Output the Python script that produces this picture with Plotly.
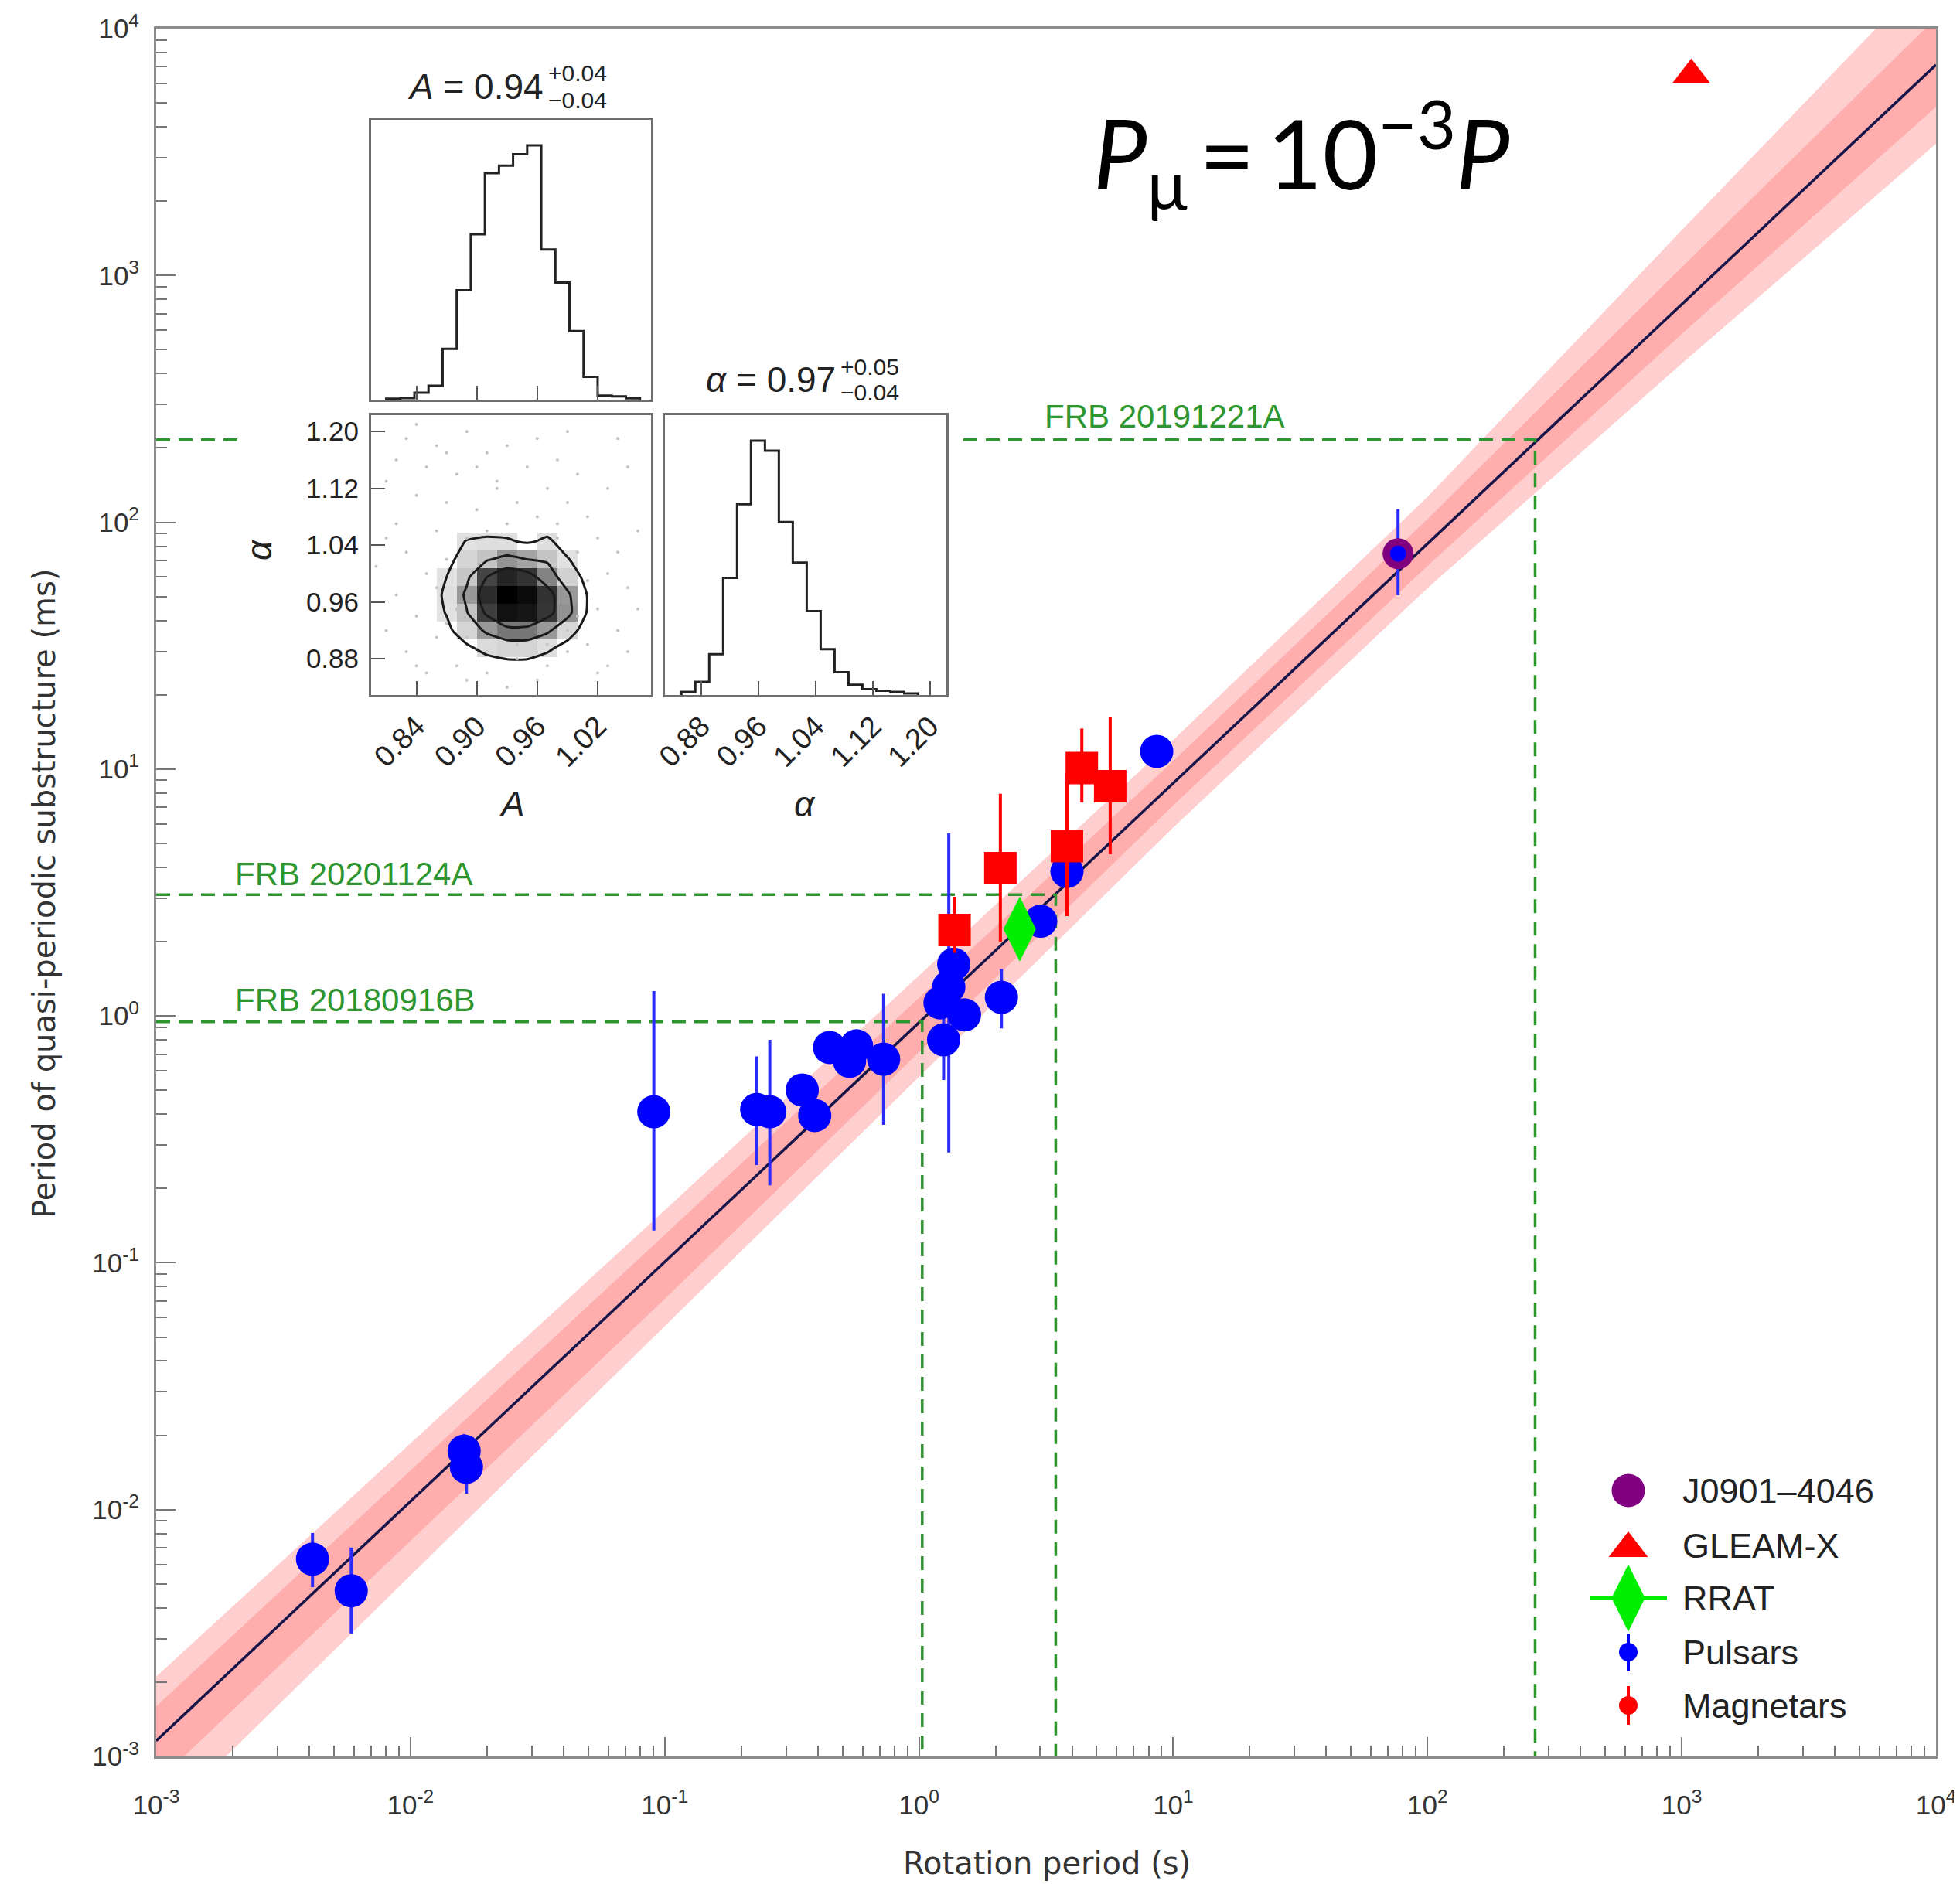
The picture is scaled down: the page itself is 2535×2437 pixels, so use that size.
import numpy as np
import plotly.graph_objects as go

W, H = 2535, 2437          # browser window
PAGE_OFF = 8               # default body margin of the html page
FW, FH = W - PAGE_OFF, H - PAGE_OFF

# ---------------- main-panel data (periods in s, substructure in ms) ----------------
pulsar_P = [0.00412, 0.00585, 0.01626, 0.0166, 0.0906, 0.230, 0.259, 0.3475, 0.389, 0.445,
            0.533, 0.568, 0.726, 1.25, 1.21, 1.51, 1.31, 1.37, 2.11, 3.01, 3.82, 8.61]
pulsar_Pmu = [0.0063, 0.00469, 0.01726, 0.01486, 0.409, 0.418, 0.409, 0.501, 0.395, 0.745,
              0.655, 0.757, 0.668, 0.80, 1.13, 1.01, 1.31, 1.62, 1.19, 2.42, 3.85, 11.8]
pulsar_Pmu_hi = [0.00804, 0.00702, 0.0202, 0.0175, 1.26, 0.685, 0.80, None, None, None,
                 None, None, 1.23, 1.16, None, None, 5.5, None, 1.55, None, None, None]
pulsar_Pmu_lo = [0.00485, 0.00315, 0.0150, 0.0116, 0.135, 0.249, 0.206, None, None, None,
                 None, None, 0.362, 0.55, None, None, 0.28, None, 0.89, None, None, None]

magnetar_P = [1.38, 2.09, 3.82, 4.37, 5.65]
magnetar_Pmu = [2.23, 3.97, 4.87, 10.1, 8.53]
magnetar_Pmu_hi = [3.04, 7.95, 9.6, 14.6, 16.2]
magnetar_Pmu_lo = [1.80, 2.0, 2.54, 7.33, 4.52]

rrat_P = [2.49]
rrat_Pmu = [2.25]

j0901_P = [76.6]
j0901_Pmu = [74.6]
j0901_Pmu_hi = [113.0]
j0901_Pmu_lo = [50.6]

gleam_P = [1090.0]
gleam_Pmu = [6500.0]

frb_names = ["FRB 20180916B", "FRB 20201124A", "FRB 20191221A"]
frb_P = [1.03, 3.45, 265.0]
frb_Pmu = [0.946, 3.1, 216.0]

# fit  P_mu = A * P^alpha   and its uncertainty bands (dex offsets at nodes)
fit_A = 0.94
fit_alpha = 0.97
band_logP = [-3.0, -2.0, -1.0, 0.0, 1.0, 2.0, 3.0, 4.0]
band_up_outer = [0.26, 0.235, 0.21, 0.19, 0.175, 0.19, 0.30, 0.40]
band_up_inner = [0.14, 0.125, 0.11, 0.10, 0.09, 0.10, 0.15, 0.19]
band_lo_inner = [-0.17, -0.16, -0.15, -0.12, -0.09, -0.09, -0.12, -0.17]
band_lo_outer = [-0.34, -0.30, -0.26, -0.22, -0.18, -0.18, -0.24, -0.32]

decade_vals = [1e-3, 1e-2, 1e-1, 1e0, 1e1, 1e2, 1e3, 1e4]
decade_text = ["10<sup>-3</sup>", "10<sup>-2</sup>", "10<sup>-1</sup>", "10<sup>0</sup>",
               "10<sup>1</sup>", "10<sup>2</sup>", "10<sup>3</sup>", "10<sup>4</sup>"]

# ---------------- corner-plot inset data ----------------
histA_left = 0.81
histA_width = 0.014
histA_counts = [0.4, 0.6, 2.7, 5.5, 20, 43, 65, 89, 92, 96.5, 100, 59, 46, 27, 9, 1.6, 1.3, 0.5]

histAl_left = 0.852
histAl_width = 0.0195
histAl_counts = [1.2, 5.2, 16, 46, 75, 100, 96, 68, 52, 33, 18, 9, 4, 2.3, 1.7, 1.2, 0.6]

corner_A = [0.85, 0.87, 0.89, 0.91, 0.93, 0.95, 0.97, 0.99, 1.01, 1.03]
corner_alpha = [0.87, 0.895, 0.92, 0.945, 0.97, 0.995, 1.02, 1.045, 1.07, 1.095]
corner_density = [
    [0, 1, 3, 6, 8, 8, 5, 2, 1, 0],
    [1, 4, 11, 19, 24, 24, 17, 8, 3, 1],
    [3, 10, 24, 42, 55, 55, 42, 22, 6, 1],
    [4, 15, 37, 66, 90, 88, 70, 45, 12, 2],
    [5, 17, 42, 76, 100, 94, 72, 42, 13, 2],
    [4, 14, 34, 62, 80, 72, 50, 26, 8, 2],
    [2, 8, 23, 36, 44, 38, 35, 15, 5, 1],
    [1, 5, 15, 17, 16, 12, 17, 7, 2, 0],
    [0, 1, 4, 6, 6, 3, 6, 2, 0, 0],
    [0, 0, 1, 1, 2, 1, 1, 0, 0, 0],
]
sample_A = [0.83, 0.86, 0.89, 0.91, 0.85, 0.88, 0.92, 0.95, 0.97, 0.84, 0.87, 0.90, 0.94, 0.99, 1.01,
            0.82, 0.86, 0.98, 1.02, 1.04, 0.83, 0.85, 0.82, 0.84, 0.86, 0.83, 1.03, 1.05, 1.02, 1.04,
            1.01, 1.03, 0.88, 0.91, 0.94, 0.97, 0.99, 0.89, 0.96, 0.93, 0.90, 0.93, 0.87, 0.96, 1.00,
            0.81, 0.80, 1.06, 1.05, 0.85,
            0.86, 0.87, 0.88, 0.87, 0.89, 0.91, 0.93, 0.96, 0.98, 1.00, 1.01, 1.00, 0.99, 0.97, 0.94,
            0.91, 0.89, 0.92, 0.98, 1.03, 1.05, 0.84, 0.99, 1.04, 0.82, 0.81, 0.81, 0.84, 1.06, 1.02]
sample_alpha = [1.19, 1.18, 1.20, 1.17, 1.15, 1.14, 1.13, 1.15, 1.12, 1.11, 1.10, 1.09, 1.10, 1.10, 1.08,
                1.07, 1.06, 1.07, 1.05, 1.03, 1.03, 1.00, 0.97, 0.94, 0.91, 0.89, 1.00, 0.98, 0.95, 0.92,
                0.90, 0.87, 0.87, 0.86, 0.88, 0.87, 0.89, 0.85, 0.85, 0.84, 1.15, 1.18, 1.17, 1.19, 1.14,
                1.13, 1.01, 1.06, 0.89, 0.86,
                0.98, 1.02, 0.95, 0.93, 1.05, 1.06, 1.07, 1.08, 1.05, 1.03, 0.99, 0.94, 0.92, 0.90, 0.90,
                0.89, 0.91, 1.12, 1.16, 1.12, 1.15, 1.21, 1.20, 1.19, 1.16, 1.05, 0.92, 0.87, 0.95, 0.86]

# ---------------- helpers (window pixels -> paper fractions) ----------------
def fx(x):
    return (x - PAGE_OFF) / FW


def fy(y):
    return 1 - (y - PAGE_OFF) / FH


def err_arrays(vals, hi, lo):
    plus = [(h - v) if h is not None else 0 for v, h in zip(vals, hi)]
    minus = [(v - l) if l is not None else 0 for v, l in zip(vals, lo)]
    return plus, minus


def step_xy(left, width, counts):
    edges = left + width * np.arange(len(counts) + 1)
    xs = [edges[0]] + list(edges[:-1]) + [edges[-1]]
    ys = [0] + list(counts) + [0]
    return xs, ys


fig = go.Figure()

# ---------------- main panel ----------------
P_nodes = 10 ** np.array(band_logP)
line_nodes = fit_A * P_nodes ** fit_alpha


def band_poly(up, lo):
    upper = line_nodes * 10 ** np.array(up)
    lower = line_nodes * 10 ** np.array(lo)
    return list(P_nodes) + list(P_nodes[::-1]), list(upper) + list(lower[::-1])


bx, byy = band_poly(band_up_outer, band_lo_outer)
fig.add_trace(go.Scatter(x=bx, y=byy, fill="toself", fillcolor="rgb(255,206,206)",
                         line=dict(width=0), mode="lines", hoverinfo="skip"))
bx, byy = band_poly(band_up_inner, band_lo_inner)
fig.add_trace(go.Scatter(x=bx, y=byy, fill="toself", fillcolor="rgb(255,173,173)",
                         line=dict(width=0), mode="lines", hoverinfo="skip"))

fit_x = np.array([1e-3, 1e4])
fig.add_trace(go.Scatter(x=fit_x, y=fit_A * fit_x ** fit_alpha, mode="lines",
                         line=dict(color="#15154a", width=3.5)))

frb_green = "#2e962e"
for p, pm in zip(frb_P, frb_Pmu):
    fig.add_trace(go.Scatter(x=[1e-3, p, p], y=[pm, pm, 1e-3], mode="lines",
                             line=dict(color=frb_green, width=3.5, dash="18px,11px")))

pp, pm_ = err_arrays(pulsar_Pmu, pulsar_Pmu_hi, pulsar_Pmu_lo)
fig.add_trace(go.Scatter(x=pulsar_P, y=pulsar_Pmu, mode="markers",
                         marker=dict(color="#0000ff", size=43, line=dict(width=0)),
                         error_y=dict(type="data", array=pp, arrayminus=pm_, color="#2a2aff",
                                      thickness=4, width=0)))

mp, mm = err_arrays(magnetar_Pmu, magnetar_Pmu_hi, magnetar_Pmu_lo)
fig.add_trace(go.Scatter(x=magnetar_P, y=magnetar_Pmu, mode="markers",
                         marker=dict(color="#ff0000", symbol="square", size=42, line=dict(width=0)),
                         error_y=dict(type="data", array=mp, arrayminus=mm, color="#ff0000",
                                      thickness=4, width=0)))

fig.add_trace(go.Scatter(x=rrat_P, y=rrat_Pmu, mode="markers",
                         marker=dict(color="#00ee00", symbol="diamond-tall", size=60, line=dict(width=0))))

jp, jm = err_arrays(j0901_Pmu, j0901_Pmu_hi, j0901_Pmu_lo)
fig.add_trace(go.Scatter(x=j0901_P, y=j0901_Pmu, mode="markers",
                         marker=dict(color="#800080", size=40, line=dict(width=0)),
                         error_y=dict(type="data", array=jp, arrayminus=jm, color="#2a2aff",
                                      thickness=4, width=0)))
fig.add_trace(go.Scatter(x=j0901_P, y=j0901_Pmu, mode="markers",
                         marker=dict(color="#0000ff", size=21, line=dict(width=0))))

fig.add_trace(go.Scatter(x=gleam_P, y=gleam_Pmu, mode="markers",
                         marker=dict(color="#ff0000", symbol="triangle-up", size=42, line=dict(width=0))))

# ---------------- overlay (pixel-coordinate) layer: cover strip + legend ----------------
ov = dict(xaxis="x2", yaxis="y2", hoverinfo="skip")
fig.add_trace(go.Scatter(x=[318, 1237, 1237, 318], y=[522, 522, 612, 612], fill="toself",
                         fillcolor="white", line=dict(width=0), mode="lines", **ov))

leg_x = 2106
leg_rows = [1928, 1999, 2067, 2137, 2206]
fig.add_trace(go.Scatter(x=[leg_x], y=[leg_rows[0]], mode="markers",
                         marker=dict(color="#800080", size=43, line=dict(width=0)), **ov))
fig.add_trace(go.Scatter(x=[leg_x], y=[leg_rows[1] + 4], mode="markers",
                         marker=dict(color="#ff0000", symbol="triangle-up", size=44, line=dict(width=0)), **ov))
fig.add_trace(go.Scatter(x=[leg_x], y=[leg_rows[2]], mode="markers",
                         marker=dict(color="#00ee00", symbol="diamond-tall", size=62, line=dict(width=0)),
                         error_x=dict(type="constant", value=50, color="#00ee00", thickness=5, width=0), **ov))
fig.add_trace(go.Scatter(x=[leg_x], y=[leg_rows[3]], mode="markers",
                         marker=dict(color="#0000ff", size=24, line=dict(width=0)),
                         error_y=dict(type="constant", value=24, color="#0000ff", thickness=4, width=0), **ov))
fig.add_trace(go.Scatter(x=[leg_x], y=[leg_rows[4]], mode="markers",
                         marker=dict(color="#ff0000", size=24, line=dict(width=0)),
                         error_y=dict(type="constant", value=25, color="#ff0000", thickness=4, width=0), **ov))

# ---------------- inset: A histogram ----------------
hx, hy = step_xy(histA_left, histA_width, histA_counts)
fig.add_trace(go.Scatter(x=hx, y=hy, mode="lines", line=dict(color="#222", width=3, shape="hv"),
                         xaxis="x3", yaxis="y3"))

# ---------------- inset: 2D posterior ----------------
fig.add_trace(go.Scatter(x=sample_A, y=sample_alpha, mode="markers",
                         marker=dict(color="#c4c4c4", size=4, line=dict(width=0)),
                         xaxis="x4", yaxis="y4"))
fig.add_trace(go.Heatmap(x=corner_A, y=corner_alpha, z=corner_density, zmin=0, zmax=100,
                         colorscale=[[0, "rgba(255,255,255,0)"], [0.139, "rgba(255,255,255,0)"],
                                     [0.14, "#e2e2e2"], [0.37, "#c2c2c2"], [0.38, "#a4a4a4"],
                                     [0.6, "#6a6a6a"], [0.61, "#464646"], [1.0, "#000000"]],
                         showscale=False, xaxis="x4", yaxis="y4", hoverinfo="skip"))
fig.add_trace(go.Contour(x=corner_A, y=corner_alpha, z=corner_density,
                         contours=dict(coloring="none", start=14, end=62, size=24),
                         line=dict(color="#1a1a1a", width=3, smoothing=0.5), showscale=False,
                         xaxis="x4", yaxis="y4", hoverinfo="skip"))

# ---------------- inset: alpha histogram ----------------
hx, hy = step_xy(histAl_left, histAl_width, histAl_counts)
fig.add_trace(go.Scatter(x=hx, y=hy, mode="lines", line=dict(color="#222", width=3, shape="hv"),
                         xaxis="x5", yaxis="y5"))

# ---------------- layout ----------------
tick_font = dict(family="Liberation Sans, Arial, sans-serif", size=35, color="#333")
minor_vals = [k * 10.0 ** e for e in range(-3, 4) for k in range(2, 10)]
main_axis = dict(type="log", range=[-3, 4], showline=True, linecolor="#8c8c8c", linewidth=3,
                 mirror=True, ticks="inside", ticklen=25, tickwidth=2, tickcolor="#777",
                 tickmode="array", tickvals=decade_vals, ticktext=decade_text, tickfont=tick_font,
                 minor=dict(tickmode="array", tickvals=minor_vals, ticks="inside", ticklen=14,
                            tickwidth=2, tickcolor="#777", showgrid=False),
                 showgrid=False, zeroline=False, automargin=False)

inset_font = dict(family="Liberation Sans, Arial, sans-serif", size=38, color="#222")
inset_axis = dict(showline=True, linecolor="#6e6e6e", linewidth=3, mirror=True, showgrid=False,
                  zeroline=False, ticks="inside", ticklen=18, tickwidth=2, tickcolor="#555",
                  tickfont=inset_font, automargin=False)

layout = dict(
    width=FW, height=FH, margin=dict(l=0, r=0, t=0, b=0, pad=0, autoexpand=False),
    paper_bgcolor="white", plot_bgcolor="white", showlegend=False,
    xaxis=dict(main_axis, domain=[fx(202), fx(2504)], anchor="y", ticklabelstandoff=30),
    yaxis=dict(main_axis, domain=[fy(2272), fy(37)], anchor="x", ticklabelstandoff=12),
    xaxis2=dict(overlaying="x", range=[202, 2504], visible=False, anchor="y2", automargin=False),
    yaxis2=dict(overlaying="y", range=[2272, 37], visible=False, anchor="x2", automargin=False),
    xaxis3=dict(inset_axis, domain=[fx(480), fx(842)], anchor="y3", range=[0.795, 1.073],
                tickvals=[0.84, 0.90, 0.96, 1.02], showticklabels=False),
    yaxis3=dict(inset_axis, domain=[fy(517), fy(155)], anchor="x3", range=[0, 110], ticks="",
                showticklabels=False),
    xaxis4=dict(inset_axis, domain=[fx(480), fx(842)], anchor="y4", range=[0.795, 1.073],
                tickvals=[0.84, 0.90, 0.96, 1.02], tickformat=".2f", tickangle=-45),
    yaxis4=dict(inset_axis, domain=[fy(899), fy(537)], anchor="x4", range=[0.829, 1.223],
                tickvals=[0.88, 0.96, 1.04, 1.12, 1.20], tickformat=".2f", ticklabelstandoff=6,
                tickfont=dict(inset_font, size=35)),
    xaxis5=dict(inset_axis, domain=[fx(860), fx(1224)], anchor="y5", range=[0.829, 1.223],
                tickvals=[0.88, 0.96, 1.04, 1.12, 1.20], tickformat=".2f", tickangle=-45),
    yaxis5=dict(inset_axis, domain=[fy(899), fy(537)], anchor="x5", range=[0, 110], ticks="",
                showticklabels=False),
)
fig.update_layout(**layout)

ann = []
sans = "Liberation Sans, Arial, sans-serif"


def add_text(text, x, y, size, color="#222", family=sans, xanchor="center", yanchor="middle", angle=0):
    ann.append(dict(text=text, x=fx(x), y=fy(y), xref="paper", yref="paper", showarrow=False,
                    xanchor=xanchor, yanchor=yanchor, textangle=angle,
                    font=dict(family=family, size=size, color=color)))


# axis titles
add_text("Rotation period (s)", 1354, 2410, 40, color="#333", family="DejaVu Sans, sans-serif")
add_text("Period of quasi-periodic substructure (ms)", 57, 1156, 40, color="#333",
         family="DejaVu Sans, sans-serif", angle=-90)

# relation label
add_text("<i>P</i><sub>μ</sub>\u2009=\u200910<sup>−3</sup><i>P</i>", 1412, 198, 124, color="#000",
         family="Lato, Noto Sans, sans-serif", xanchor="left")

# FRB labels
add_text(frb_names[0], 302, 1293, 42, color=frb_green, xanchor="left")
add_text(frb_names[1], 302, 1130, 42, color=frb_green, xanchor="left")
add_text(frb_names[2], 1349, 538, 42, color=frb_green, xanchor="left")

# legend labels
for lbl, yy in zip(["J0901–4046", "GLEAM-X", "RRAT", "Pulsars", "Magnetars"], leg_rows):
    add_text(lbl, 2174, yy, 45, color="#222", xanchor="left")

# inset titles
add_text("<i>A</i> = 0.94", 705, 112, 46, xanchor="right")
add_text("+0.04", 707, 95, 30, xanchor="left")
add_text("−0.04", 707, 129, 30, xanchor="left")
add_text("<i>α</i> = 0.97", 1083, 491, 46, xanchor="right")
add_text("+0.05", 1085, 474, 30, xanchor="left")
add_text("−0.04", 1085, 508, 30, xanchor="left")

# inset axis labels
add_text("<i>A</i>", 662, 1040, 46)
add_text("<i>α</i>", 1041, 1040, 46)
add_text("<i>α</i>", 335, 711, 46, angle=-90)

fig.update_layout(annotations=ann)
fig.write_html("out.html")
